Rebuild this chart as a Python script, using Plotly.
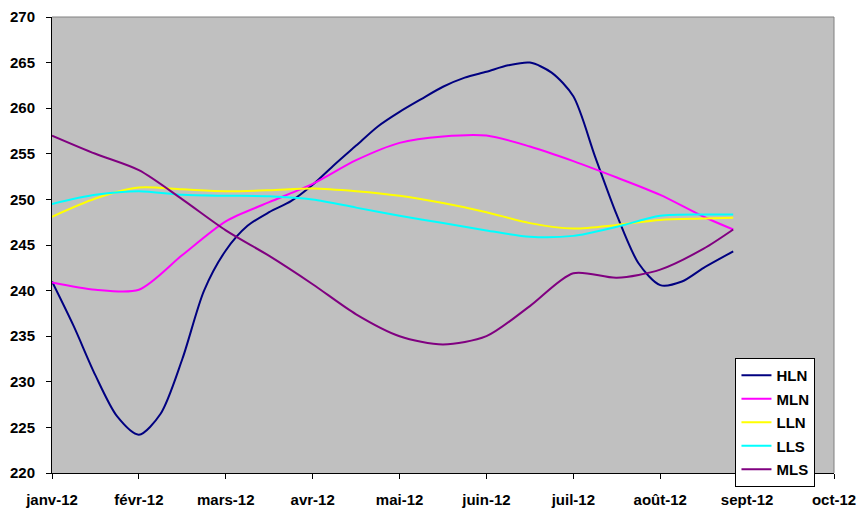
import plotly.graph_objects as go

month_labels = ["janv-12", "févr-12", "mars-12", "avr-12", "mai-12", "juin-12",
                "juil-12", "août-12", "sept-12", "oct-12"]

# x positions in months since janv-12
x_half = [0, 0.5, 1, 1.5, 2, 2.5, 3, 3.5, 4, 4.5, 5, 5.5, 6, 6.5, 7, 7.5, 7.84]
x_quarter = [0, 0.25, 0.5, 0.75, 1, 1.25, 1.5, 1.75, 2, 2.25, 2.5, 2.75, 3, 3.25,
             3.5, 3.75, 4, 4.25, 4.5, 4.75, 5, 5.25, 5.5, 5.75, 6, 6.25, 6.5,
             6.75, 7, 7.25, 7.5, 7.84]

hln = [241.0, 236.1, 230.7, 226.2, 224.2, 226.5, 232.5, 240.0, 244.4, 247.1,
       248.6, 249.8, 251.6, 253.8, 255.9, 258.0, 259.6, 261.0, 262.35, 263.35,
       264.0, 264.7, 265.0, 263.9, 261.3, 254.7, 248.3, 243.0, 240.6, 241.0,
       242.5, 244.3]
mln = [240.9, 240.1, 240.1, 243.9, 247.6, 249.7, 251.7, 254.3, 256.2, 256.9,
       257.0, 255.8, 254.2, 252.4, 250.5, 248.1, 246.7]
lln = [248.1, 250.1, 251.3, 251.1, 250.9, 251.0, 251.2, 250.9, 250.4, 249.6,
       248.6, 247.4, 246.8, 247.2, 247.75, 247.9, 248.0]
lls = [249.5, 250.5, 250.9, 250.5, 250.4, 250.35, 250.0, 249.1, 248.2, 247.4,
       246.6, 245.9, 246.0, 247.0, 248.2, 248.35, 248.35]
mls = [257.0, 255.0, 253.2, 250.0, 246.6, 243.8, 240.7, 237.4, 235.0, 234.1,
       235.0, 238.3, 241.9, 241.4, 242.3, 244.6, 246.7]

y_ticks = [220, 225, 230, 235, 240, 245, 250, 255, 260, 265, 270]

series = [
    ("HLN", x_quarter, hln, "#000080"),
    ("MLN", x_half, mln, "#FF00FF"),
    ("LLN", x_half, lln, "#FFFF00"),
    ("LLS", x_half, lls, "#00FFFF"),
    ("MLS", x_half, mls, "#800080"),
]

fig = go.Figure()
for name, xs, ys, col in series:
    fig.add_trace(go.Scatter(x=xs, y=ys, name=name, mode="lines", legendgroup=name,
                             line=dict(color=col, width=2, shape="spline", smoothing=0.8)))

FAM = "Arial, Liberation Sans, sans-serif"
font = dict(family=FAM, size=15, color="black", weight="bold")

fig.update_layout(
    width=859, height=508,
    margin=dict(l=52, r=25, t=17, b=35),
    paper_bgcolor="white",
    plot_bgcolor="#C0C0C0",
    font=font,
    showlegend=True,
    legend=dict(x=0.874, y=0.252, xanchor="left", yanchor="top",
                bgcolor="white", bordercolor="black", borderwidth=1,
                font=dict(family=FAM, size=15, color="black", weight="bold"),
                tracegroupgap=1),
    xaxis=dict(range=[0, 9], tickmode="array", tickvals=list(range(10)),
               ticktext=month_labels, showgrid=False, zeroline=False,
               showline=True, linecolor="black", linewidth=1,
               ticks="outside", ticklen=5, tickcolor="black",
               ticklabelstandoff=8, automargin=False),
    yaxis=dict(range=[220, 270], tickmode="array", tickvals=y_ticks,
               showgrid=False, zeroline=False,
               showline=True, linecolor="black", linewidth=1,
               ticks="outside", ticklen=5, tickcolor="black",
               ticklabelstandoff=8, automargin=False),
    shapes=[
        dict(type="line", xref="paper", yref="paper", x0=0, x1=1, y0=1, y1=1,
             line=dict(color="#808080", width=1)),
        dict(type="line", xref="paper", yref="paper", x0=1, x1=1, y0=0, y1=1,
             line=dict(color="#808080", width=1)),
    ],
)

fig.write_html("out.html")
